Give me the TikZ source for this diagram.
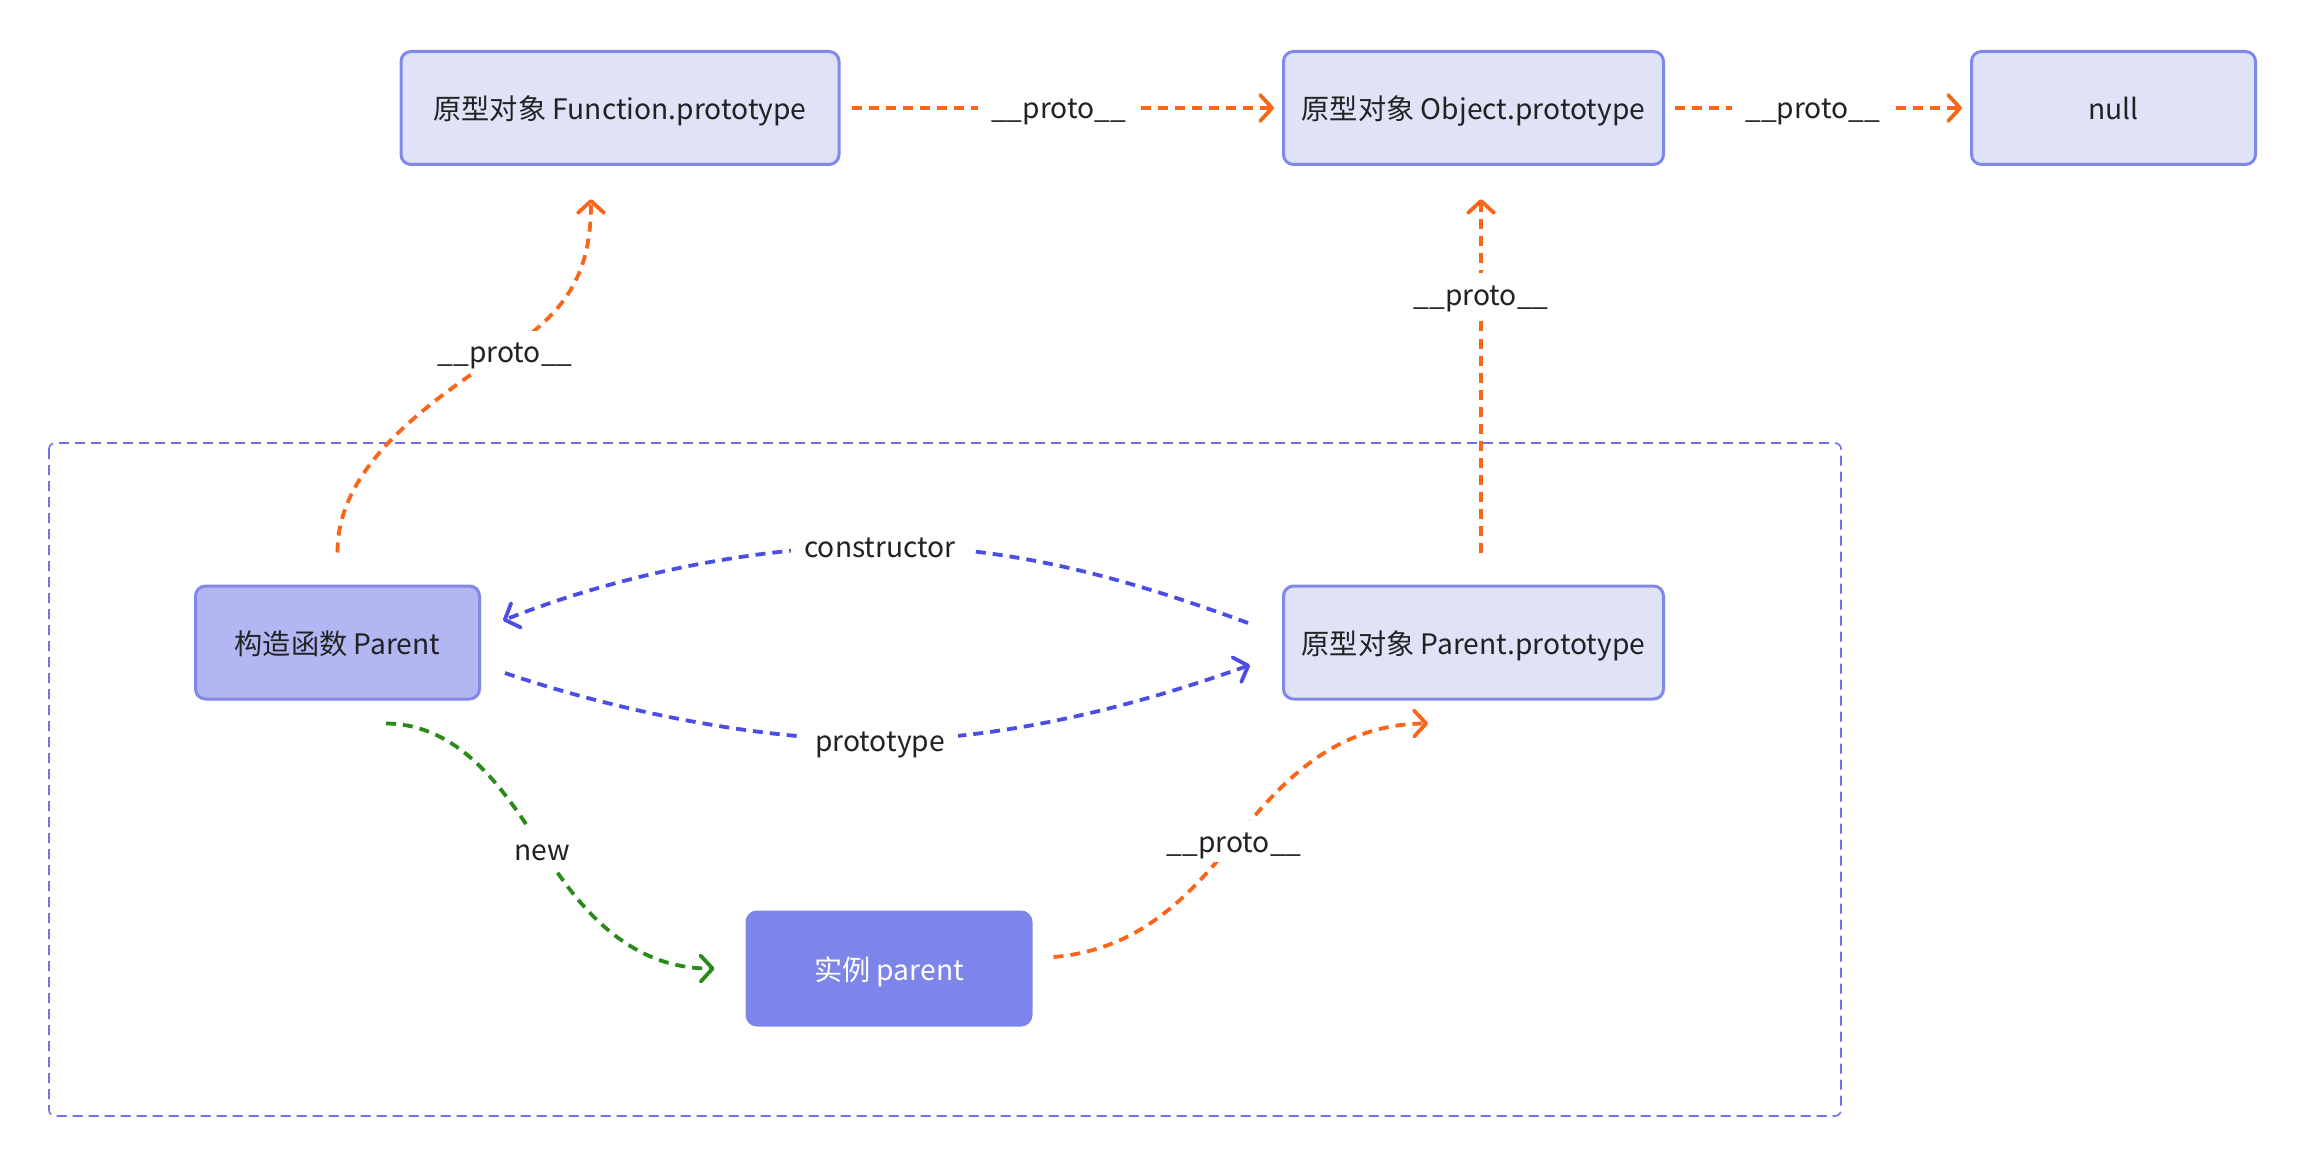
\documentclass[tikz,border=0pt]{standalone}
\usepackage{fontspec}
\setmainfont{Noto Sans CJK SC}
\usetikzlibrary{arrows.meta,calc}
\definecolor{boxfill}{HTML}{E0E2F8}
\definecolor{boxline}{HTML}{8088EA}
\definecolor{ctorfill}{HTML}{B2B7F3}
\definecolor{instfill}{HTML}{7E85EA}
\definecolor{orangeA}{HTML}{F9661A}
\definecolor{blueA}{HTML}{4B4DE6}
\definecolor{greenA}{HTML}{2B8A1A}
\definecolor{grpline}{HTML}{6F70EE}
\definecolor{txt}{HTML}{222222}
\begin{document}
\begin{tikzpicture}[x=0.5pt,y=-0.5pt,
  txtfont/.style={font=\fontsize{14.1}{17}\selectfont},
  box/.style={draw=boxline, line width=1.5pt, fill=boxfill, rounded corners=5pt,
    minimum height=56.5pt, text=txt, txtfont, inner sep=0pt,
    text height=12pt, text depth=0pt},
  ctorbox/.style={box, fill=ctorfill},
  instbox/.style={box, draw=instfill, fill=instfill, text=white},
  link/.style={line width=1.9pt, dash pattern=on 5pt off 3.5pt,
    -{Straight Barb[length=6pt,width=13pt,round]}},
  olink/.style={link, draw=orangeA},
  blink/.style={link, draw=blueA},
  glink/.style={link, draw=greenA},
  lbl/.style={fill=white, text=txt, txtfont, inner xsep=6.5pt, inner ysep=5pt,
    text height=11pt, text depth=0pt},
  grp/.style={draw=grpline, line width=0.8pt, dash pattern=on 5pt off 3pt, rounded corners=3pt}
]
\useasboundingbox (0,0) rectangle (2308,1166);
% group
\draw[grp] (49,443) rectangle (1841,1116);
% nodes
\node[box, minimum width=219pt] (fp) at (620,108) {原型对象 Function.prototype};
\node[box, minimum width=190pt] (op) at (1473.5,108) {原型对象 Object.prototype};
\node[box, minimum width=142pt] (nl) at (2113.5,108) {null};
\node[ctorbox, minimum width=142pt] (pc) at (337.5,642.5) {构造函数 Parent};
\node[box, minimum width=190pt] (pp) at (1473.5,642.5) {原型对象 Parent.prototype};
\node[instbox, minimum width=142pt] (inst) at (889,968.5) {实例 parent};
% top chain
\draw[olink] ($(fp.east)+(11,0)$) -- node[lbl, pos=0.49] (l1) {\_\_proto\_\_} ($(op.west)+(-8,0)$);
\draw[olink] ($(op.east)+(10,0)$) -- node[lbl, pos=0.48] (l2) {\_\_proto\_\_} ($(nl.west)+(-8,0)$);
% Parent.prototype -> Object.prototype
\draw[olink] ($(pp.north)+(7.5,-32)$) -- node[lbl, pos=0.73] (l4) {\_\_proto\_\_} ($(op.south)+(7.5,33)$);
% constructor -> Function.prototype
\draw[olink] ($(pc.north)+(0,-32)$) .. controls (337,470) and (420,407) .. (505,352)
  node[lbl] (l3) {\_\_proto\_\_}
  .. controls (570,310) and (591,270) .. ($(fp.south)+(-29,33)$);
% constructor arc
\draw[blink] ($(pp.west)+(-34,-19.5)$) .. controls (1110,572) and (1000,546) .. (880,546)
  node[lbl] (l5) {constructor}
  .. controls (760,546) and (620,574) .. ($(pc.east)+(22,-22)$);
% prototype arc
\draw[blink] ($(pc.east)+(24,30.5)$) .. controls (620,712) and (760,740) .. (880,740)
  node[lbl] (l6) {prototype}
  .. controls (1000,740) and (1130,708) .. ($(pp.west)+(-32,22.5)$);
% new
\draw[glink] ($(pc.south)+(48.5,23)$) .. controls (460,724) and (505,790) .. (542,849)
  node[lbl] (l7) {new}
  .. controls (580,910) and (630,969) .. ($(inst.west)+(-31,0)$);
% instance -> Parent.prototype
\draw[olink] ($(inst.east)+(21,-11.5)$) .. controls (1140,950) and (1190,895) .. (1234,841)
  node[lbl] (l8) {\_\_proto\_\_}
  .. controls (1275,790) and (1330,724) .. ($(pp.south)+(-45.5,23)$);
\end{tikzpicture}
\end{document}
